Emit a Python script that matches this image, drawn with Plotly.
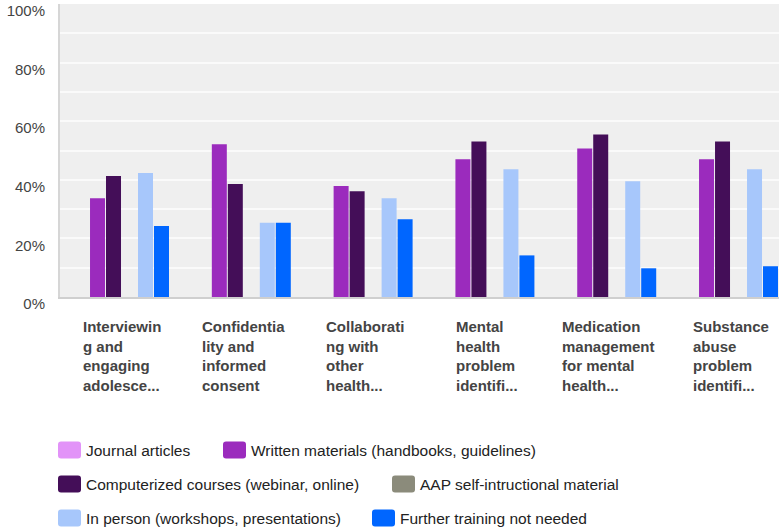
import plotly.graph_objects as go

# ---- data ----
categories = [
    "Interviewin<br>g and<br>engaging<br>adolesce...",
    "Confidentia<br>lity and<br>informed<br>consent",
    "Collaborati<br>ng with<br>other<br>health...",
    "Mental<br>health<br>problem<br>identifi...",
    "Medication<br>management<br>for mental<br>health...",
    "Substance<br>abuse<br>problem<br>identifi...",
]
series_names = [
    "Journal articles",
    "Written materials (handbooks, guidelines)",
    "Computerized courses (webinar, online)",
    "AAP self-intructional material",
    "In person (workshops, presentations)",
    "Further training not needed",
]
journal_articles = [0, 0, 0, 0, 0, 0]
written_materials = [0.337, 0.521, 0.379, 0.470, 0.507, 0.470]
computerized_courses = [0.413, 0.386, 0.361, 0.531, 0.555, 0.531]
aap_material = [0, 0, 0, 0, 0, 0]
in_person = [0.423, 0.253, 0.337, 0.436, 0.395, 0.436]
no_further_training = [0.242, 0.253, 0.265, 0.142, 0.098, 0.105]
series_colors = ["#e293f8", "#9b2bbd", "#440e58", "#8b8b7b", "#a7c7fb", "#0066ff"]
y_tick_vals = [0, 0.2, 0.4, 0.6, 0.8, 1.0]
y_tick_text = ["0%", "20%", "40%", "60%", "80%", "100%"]

series_values = [journal_articles, written_materials, computerized_courses,
                 aap_material, in_person, no_further_training]

W, H = 779, 529
L, R, T, B = 60, 0, 4, 232
PW, PH = W - L - R, H - T - B

fig = go.Figure()
for name, vals, col in zip(series_names, series_values, series_colors):
    fig.add_trace(go.Bar(x=list(range(len(categories))), y=vals, name=name,
                         marker=dict(color=col, line=dict(width=0)),
                         showlegend=False, hoverinfo="y+name"))

# category labels (multi-line, left aligned block centered on group)
annotations = []
for i, lab in enumerate(categories):
    annotations.append(dict(
        x=i, xref="x", y=0, yref="paper", yanchor="top", yshift=-19,
        xanchor="center", align="left", showarrow=False, text=lab,
        font=dict(family="Liberation Sans, Arial", size=15, color="#444444",
                  weight="bold")))

# manual legend
def px_x(px):
    return (px - L) / PW

def px_y(py):
    return (H - B - py) / PH

legend_layout = [  # (swatch left px, row center px)
    (58, 450), (223, 450),
    (58, 484), (392, 484),
    (58, 518), (372, 518),
]
shapes = []
sw, sh, rr = 23, 17, 3
for (lx, cy), name, col in zip(legend_layout, series_names, series_colors):
    x0, x1 = lx, lx + sw
    y0, y1 = cy - sh / 2, cy + sh / 2
    path = (f"M{px_x(x0 + rr)},{px_y(y0)} L{px_x(x1 - rr)},{px_y(y0)} "
            f"Q{px_x(x1)},{px_y(y0)} {px_x(x1)},{px_y(y0 + rr)} "
            f"L{px_x(x1)},{px_y(y1 - rr)} Q{px_x(x1)},{px_y(y1)} {px_x(x1 - rr)},{px_y(y1)} "
            f"L{px_x(x0 + rr)},{px_y(y1)} Q{px_x(x0)},{px_y(y1)} {px_x(x0)},{px_y(y1 - rr)} "
            f"L{px_x(x0)},{px_y(y0 + rr)} Q{px_x(x0)},{px_y(y0)} {px_x(x0 + rr)},{px_y(y0)} Z")
    shapes.append(dict(type="path", xref="paper", yref="paper", path=path,
                       fillcolor=col, line=dict(width=0), layer="above"))
    annotations.append(dict(
        x=px_x(lx + 26), xref="paper", y=px_y(cy), yref="paper",
        xanchor="left", yanchor="middle", showarrow=False, text=name,
        font=dict(family="Liberation Sans, Arial", size=15.5, color="#222222")))

fig.update_layout(
    width=W, height=H,
    margin=dict(l=L, r=R, t=T, b=B, pad=0),
    paper_bgcolor="white", plot_bgcolor="#efefef",
    barmode="group", bargap=0.212, bargroupgap=0.0625,
    showlegend=False,
    shapes=shapes, annotations=annotations,
    xaxis=dict(range=[-0.505, 5.398], showticklabels=False, showgrid=False,
               zeroline=False, showline=True, linecolor="#cfcfcf", linewidth=2,
               ticks="", fixedrange=True),
    yaxis=dict(range=[0, 1], tickvals=y_tick_vals, ticktext=y_tick_text,
               showgrid=True, gridcolor="#fafafa", gridwidth=2,
               minor=dict(dtick=0.1, showgrid=True, gridcolor="#fafafa", gridwidth=2),
               zeroline=False, showline=True, linecolor="#d6d6d6", linewidth=2,
               ticks="", ticklabelshift=7, ticklabelstandoff=10,
               tickfont=dict(family="Liberation Sans, Arial", size=15, color="#444444"),
               fixedrange=True),
)

fig.write_html("out.html", config={"displayModeBar": False},
               post_script="document.body.style.margin='0';document.body.style.overflow='hidden';")
